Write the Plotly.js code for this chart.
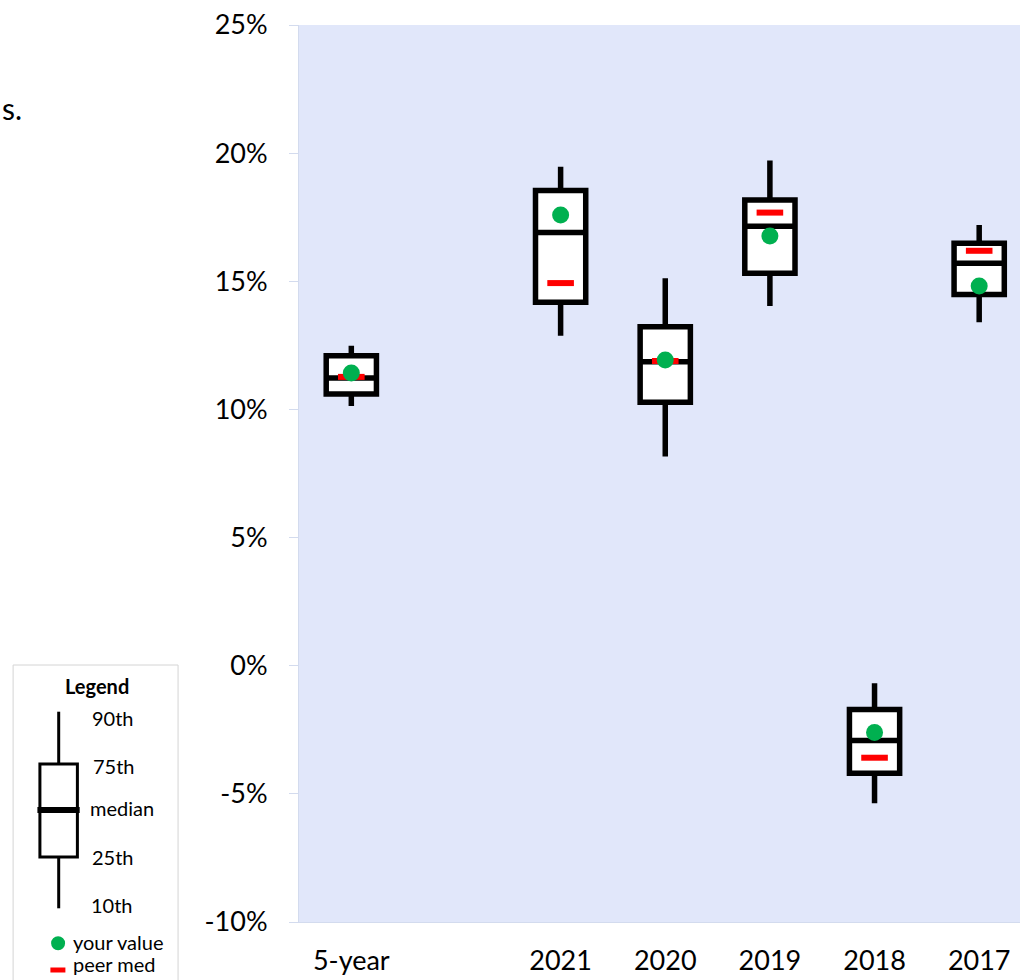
<!DOCTYPE html>
<html>
<head>
<meta charset="utf-8">
<script src="https://cdn.plot.ly/plotly-3.0.1.min.js"></script>
<style>html,body{margin:0;padding:0;background:#fff;}#chart{width:1020px;height:980px;}</style>
</head>
<body>
<div id="chart"></div>
<script>
// ---- data ----
const categories = ['5-year', '', '2021', '2020', '2019', '2018', '2017'];
const boxCats = ['5-year', '2021', '2020', '2019', '2018', '2017'];
const p10 = [10.13, 12.87, 8.16, 14.04, -5.37, 13.40];
const p25 = [10.60, 14.18, 10.28, 15.31, -4.20, 14.48];
const p50 = [11.23, 16.90, 11.86, 17.15, -2.92, 15.70];
const p75 = [12.09, 18.54, 13.23, 18.17, -1.71, 16.48];
const p90 = [12.48, 19.47, 15.12, 19.71, -0.68, 17.20];
const yourValue = [11.42, 17.59, 11.93, 16.77, -2.61, 14.82];
const peerMed = [11.27, 14.93, 11.89, 17.68, -3.59, 16.19];
const yTickVals = [-10, -5, 0, 5, 10, 15, 20, 25];
const yTickText = ['-10%', '-5%', '0%', '5%', '10%', '15%', '20%', '25%'];
const legendLabels = ['90th', '75th', 'median', '25th', '10th'];

// ---- build ----
const catIdx = categories.map((c, i) => i);
const xpos = boxCats.map(c => categories.indexOf(c));
const bounds = categories.map((c, i) => i - 0.5).concat([categories.length - 0.5]);
const xRange = [-0.5, 6.39];
const yRange = [-10, 25];
const FONT = 'Lato, "Open Sans", sans-serif';
const TICKC = '#d3dbee';

const traces = [
  {
    type: 'box', x: xpos, q1: p25, median: p50, q3: p75,
    lowerfence: p10, upperfence: p90, boxpoints: false,
    width: 0.48, whiskerwidth: 0, fillcolor: '#ffffff',
    line: {color: '#000000', width: 5.5}, hoverinfo: 'skip', showlegend: false
  },
  {
    type: 'scatter', mode: 'markers', x: xpos, y: peerMed,
    marker: {symbol: 'line-ew', size: 19, color: '#ff0000', line: {color: '#ff0000', width: 6}},
    hoverinfo: 'skip', showlegend: false
  },
  {
    type: 'scatter', mode: 'markers', x: xpos, y: yourValue,
    marker: {symbol: 'circle', size: 17, color: '#00b050', line: {width: 0}},
    hoverinfo: 'skip', showlegend: false
  }
];

const W = 1020, H = 980, ML = 298.7, MT = 25, MB = 58;
const pw = W - ML, ph = H - MT - MB;
const lx = px => (px - ML) / pw;
const ly = py => (H - MB - py) / ph;

const shapes = [
  // legend frame
  {type: 'rect', xref: 'paper', yref: 'paper', x0: lx(12.7), x1: lx(177.7), y0: ly(665), y1: ly(990),
   line: {color: '#d4d4d4', width: 1}, fillcolor: 'rgba(0,0,0,0)', layer: 'above'},
  // whiskers
  {type: 'line', xref: 'paper', yref: 'paper', x0: lx(58.3), x1: lx(58.3), y0: ly(711.7), y1: ly(764),
   line: {color: '#000', width: 3}},
  {type: 'line', xref: 'paper', yref: 'paper', x0: lx(58.3), x1: lx(58.3), y0: ly(857), y1: ly(908.3),
   line: {color: '#000', width: 3}},
  // box
  {type: 'rect', xref: 'paper', yref: 'paper', x0: lx(39.5), x1: lx(77), y0: ly(857), y1: ly(764),
   line: {color: '#000', width: 3}, fillcolor: '#ffffff'},
  // median
  {type: 'line', xref: 'paper', yref: 'paper', x0: lx(37), x1: lx(79.3), y0: ly(810), y1: ly(810),
   line: {color: '#000', width: 6}},
  // your value dot
  {type: 'circle', xref: 'paper', yref: 'paper', x0: lx(50.7), x1: lx(64.7), y0: ly(936.3), y1: ly(950.3),
   line: {width: 0}, fillcolor: '#00b050'},
  // peer med dash
  {type: 'rect', xref: 'paper', yref: 'paper', x0: lx(50), x1: lx(65), y0: ly(967.5), y1: ly(972.5),
   line: {width: 0}, fillcolor: '#ff0000'}
];

const legY = [718, 766, 808, 857, 905];
const legX = [90, 91, 88, 90, 89];
const annotations = [
  {text: '<b>Legend</b>', xref: 'paper', yref: 'paper', x: lx(97), y: ly(686), xanchor: 'center', yanchor: 'middle',
   showarrow: false, font: {family: FONT, size: 20, color: '#000'}},
  {text: 'your value', xref: 'paper', yref: 'paper', x: lx(71), y: ly(942), xanchor: 'left', yanchor: 'middle',
   showarrow: false, font: {family: FONT, size: 20, color: '#000'}},
  {text: 'peer med', xref: 'paper', yref: 'paper', x: lx(71), y: ly(964), xanchor: 'left', yanchor: 'middle',
   showarrow: false, font: {family: FONT, size: 20, color: '#000'}},
  {text: 's.', xref: 'paper', yref: 'paper', x: lx(0), y: ly(108), xanchor: 'left', yanchor: 'middle',
   showarrow: false, font: {family: FONT, size: 30, color: '#000'}}
].concat(legendLabels.map((t, i) => ({
  text: t, xref: 'paper', yref: 'paper', x: lx(legX[i]), y: ly(legY[i]), xanchor: 'left', yanchor: 'middle',
  showarrow: false, font: {family: FONT, size: 20, color: '#000'}
})));

const layout = {
  width: W, height: H,
  margin: {l: ML, r: 0, t: MT, b: MB, pad: 0},
  paper_bgcolor: '#ffffff', plot_bgcolor: '#e1e7fa',
  font: {family: FONT, color: '#000'},
  showlegend: false,
  xaxis: {
    type: 'linear', range: xRange, tickmode: 'array', tickvals: catIdx, ticktext: categories,
    ticks: '', showgrid: false, zeroline: false, showline: true, linecolor: TICKC, linewidth: 1,
    tickfont: {family: FONT, size: 27, color: '#000'}, ticklabelstandoff: 15, fixedrange: true
  },
  xaxis2: {
    overlaying: 'x', anchor: 'y', type: 'linear', range: xRange, tickmode: 'array', tickvals: bounds,
    ticks: 'outside', ticklen: 10, tickcolor: TICKC, tickwidth: 1, showticklabels: false,
    showgrid: false, zeroline: false, showline: false
  },
  xaxis3: {
    overlaying: 'x', anchor: 'y', type: 'linear', range: xRange, tickmode: 'array', tickvals: bounds,
    ticks: 'inside', ticklen: 10, tickcolor: TICKC, tickwidth: 1, showticklabels: false,
    showgrid: false, zeroline: false, showline: false
  },
  yaxis: {
    range: yRange, tickmode: 'array', tickvals: yTickVals, ticktext: yTickText,
    ticks: 'outside', ticklen: 9, tickcolor: TICKC, tickwidth: 1,
    showgrid: false, zeroline: false, showline: true, linecolor: TICKC, linewidth: 1,
    tickfont: {family: FONT, size: 27, color: '#000'}, ticklabelstandoff: 16, fixedrange: true
  },
  yaxis2: {
    overlaying: 'y', anchor: 'x', range: yRange, tickmode: 'array', tickvals: yTickVals,
    ticks: 'inside', ticklen: 10, tickcolor: TICKC, tickwidth: 1, showticklabels: false,
    showgrid: false, zeroline: false, showline: false
  },
  shapes: shapes,
  annotations: annotations
};

Plotly.newPlot('chart', traces, layout, {displayModeBar: false, staticPlot: true});
</script>
</body>
</html>
